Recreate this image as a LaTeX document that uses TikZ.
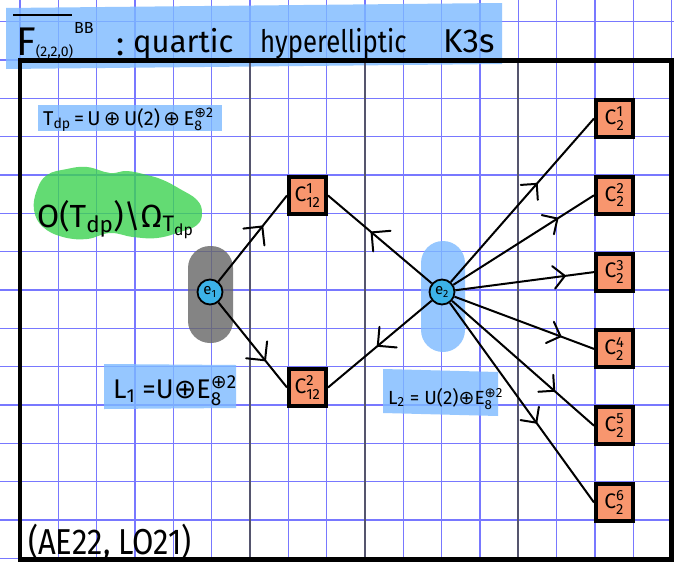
\documentclass[tikz,border=0pt]{standalone}
\usepackage{fix-cm}
\usepackage{amsmath}
\usepackage{fontspec}
\setmainfont{Fira Sans}
\newfontfamily\symfont{DejaVu Sans}
\usetikzlibrary{calc}

\definecolor{gridblue}{RGB}{120,120,255}
\definecolor{darkrule}{RGB}{85,85,110}
\definecolor{hlblue}{RGB}{124,186,255}
\definecolor{hlgreen}{RGB}{61,211,80}
\definecolor{pillgray}{RGB}{102,102,102}
\definecolor{eblue}{RGB}{60,178,232}
\definecolor{salmon}{RGB}{248,150,110}

% direct sum sign and stacked scripts
\newcommand\osum{{\symfont ⊕}}
\newcommand\supsub[3]{#1$^{\text{#3}}_{\text{#2}}$}
\newcommand\fsz[1]{\fontsize{#1}{#1}\selectfont}

\begin{document}
\begin{tikzpicture}[x=1pt,y=-1pt,
  gridline/.style={draw=gridblue,line width=1.1pt},
  heavyrule/.style={draw=darkrule,line width=2pt},
  marker/.style={fill opacity=0.8},
  cbox/.style={draw,line width=4pt,fill=salmon,minimum size=37pt,inner sep=0pt,font=\fsz{21}},
  enode/.style={circle,draw,line width=1.8pt,minimum size=25pt,inner sep=0pt,font=\fsz{15}},
  edge/.style={line width=2pt},
  barb/.style={line width=2pt,line cap=round,line join=round},
  txt/.style={inner sep=0pt,anchor=base west}]

\useasboundingbox (0,0) rectangle (674,562);
\fill[white] (0,0) rectangle (674,562);

% squared paper
\foreach \k in {0,...,17} \draw[gridline] ({20+115/3*\k},0) -- ({20+115/3*\k},562);
\foreach \k in {0,...,14} \draw[gridline] (0,{21.67+115/3*\k}) -- (674,{21.67+115/3*\k});

% highlighter marks
\fill[hlblue,marker] (6,8) -- (502,3) -- (502,64) -- (6,69) -- cycle;
\fill[hlblue,marker] (38,105) rectangle (222,131);
\fill[hlgreen,marker] plot[smooth cycle,tension=0.7] coordinates {
  (37,190) (47,175) (67,169) (87,167) (110,173) (127,171) (147,175) (163,180)
  (180,189) (197,200) (202,213) (197,225) (180,232) (157,238) (133,237)
  (110,233) (87,239) (63,237) (43,227) (34,210)};
\fill[pillgray,marker,rounded corners=22pt] (188,246) rectangle (233,343);
\fill[hlblue,marker,rounded corners=22pt] (421,241) rectangle (465,352);
\fill[hlblue,marker] (104,364) -- (236,365) -- (236,408) -- (104,409) -- cycle;
\fill[hlblue,marker] (383,369) -- (498,372) -- (498,416) -- (383,413) -- cycle;

% column rules and frame
\foreach \x in {250,365,518.3} \draw[heavyrule] (\x,60) -- (\x,558);
\draw[line width=4.5pt] (20,60.5) rectangle (671.5,559.5);

% title
\node[txt] (ttlF) at (16,55) {\fsz{40}\rlap{\hspace{-3pt}\rule[39pt]{59pt}{1.8pt}}F\raisebox{-1pt}{\fsz{14}(2,2,0)}\hspace{1pt}\raisebox{22pt}{\fsz{16}BB}};
\node[txt] (ttlC) at (116,55) {\fsz{34}:};
\node[txt] (ttlA) at (133,52) {\fsz{31}quartic};
\node[txt] (ttlB) at (260,52) {\fsz{31}\scalebox{0.83}[1]{hyperelliptic}};
\node[txt] (ttlK) at (443,52) {\fsz{33}K3s};

% lattices
\node[txt] (tdp) at (43,125) {\fsz{20}T\textsubscript{dp}\,=\,U\,\osum\,U(2)\,\osum\,\supsub{E}{8}{\osum2}};
\node[txt] (orb) at (37,227) {\fsz{32}O(T\textsubscript{dp})\textbackslash Ω\textsubscript{T\textsubscript{dp}}};
\node[txt] (lone) at (113,398) {\fsz{27}L\textsubscript{1} =U\osum\supsub{E}{8}{\osum2}};
\node[txt] (ltwo) at (388,404) {\fsz{19}L\textsubscript{2} = U(2)\osum\supsub{E}{8}{\osum2}};
\node[txt] (refs) at (28,554) {\fsz{36}\scalebox{0.86}[1]{(AE22, LO21)}};

% graph
\node[enode,fill=eblue] (e1) at (210,292) {e\textsubscript{1}};
\node[enode,fill=eblue] (e2) at (442,292) {e\textsubscript{2}};
\node[cbox] (c12a) at (307.5,195.5) {\supsub{C}{12}{1}};
\node[cbox] (c12b) at (307.5,387.5) {\supsub{C}{12}{2}};
\foreach \i [evaluate=\i as \yy using 118.5+76.8*(\i-1)] in {1,...,6}
  \node[cbox] (c2\i) at (614.5,\yy) {\supsub{C}{2}{\i}};

% edges with an open arrowhead part way along
\foreach \s/\t/\p/\b [count=\n] in {
    e1/c12a.west/0.64/19, e1/c12b.west/0.68/19,
    e2/c12a.east/0.58/19, e2/c12b.east/0.52/19,
    e2/c21.west/0.6/16, e2/c22.west/0.74/16, e2/c23.west/0.79/16,
    e2/c24.west/0.76/16, e2/c25.west/0.72/16, e2/c26.west/0.6/16} {
  \draw[edge] (\s) -- (\t) coordinate[pos=\p] (tip\n);
  \draw[barb] ($(tip\n)!\b pt!45:(\s)$) -- (tip\n) -- ($(tip\n)!\b pt!-45:(\s)$);
}
\end{tikzpicture}
\end{document}
